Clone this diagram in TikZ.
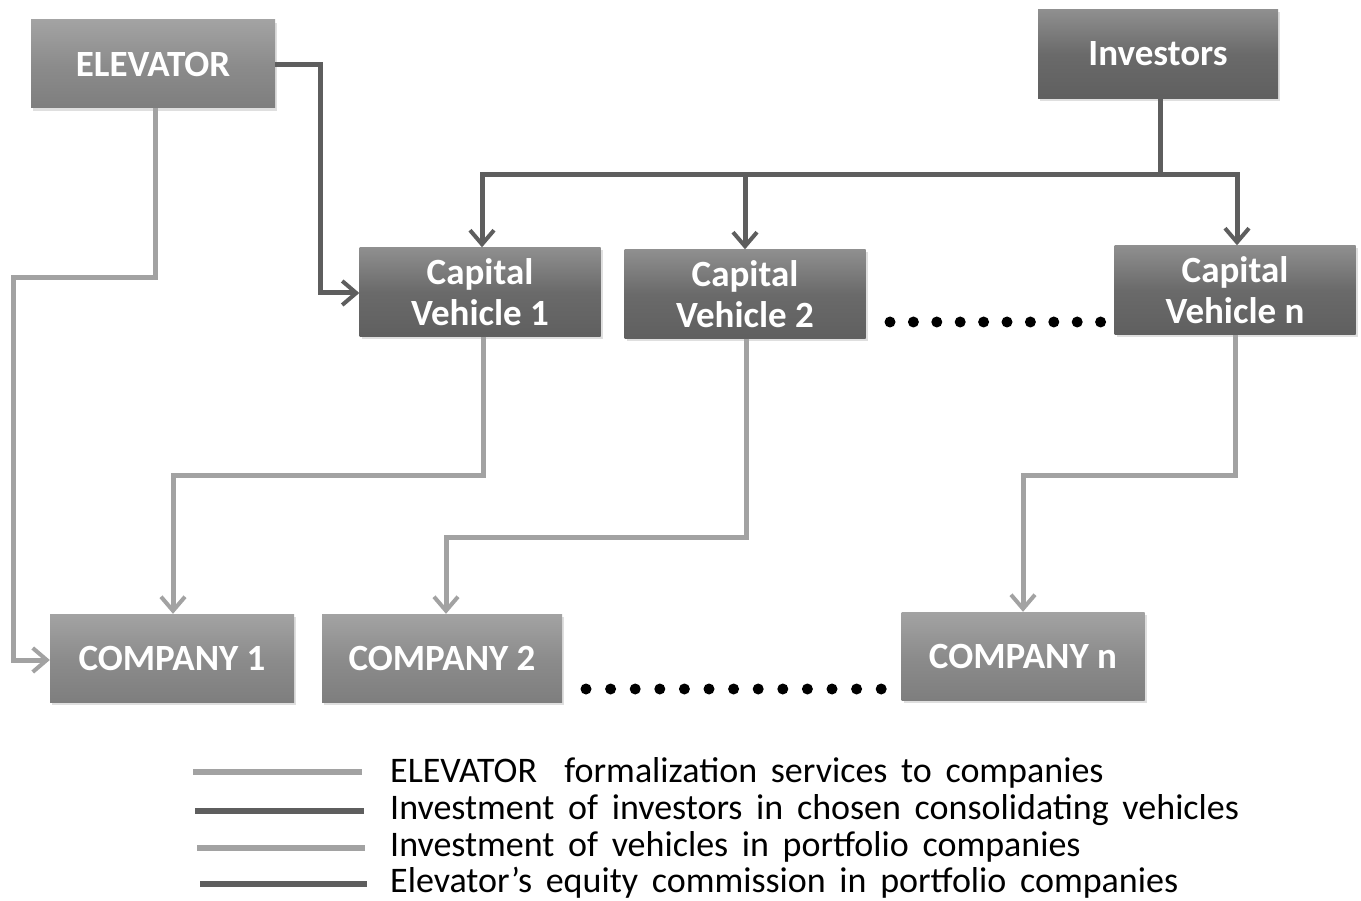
\documentclass[tikz,border=0pt]{standalone}
\usepackage{fontspec}
\setmainfont{Carlito}
\usetikzlibrary{arrows.meta,shadows}
\definecolor{boxlight}{HTML}{8C8C8C}
\definecolor{boxdark}{HTML}{6A6A6A}
\definecolor{linelight}{HTML}{A2A2A2}
\definecolor{linedark}{HTML}{5E5E5E}
\newcommand{\mylegfont}{\fontsize{36}{38}\selectfont\spaceskip=0.38em plus 0.1em minus 0.05em\relax}
\tikzset{
  lbox/.style={draw=none, top color=boxlight!80!white, bottom color=boxlight!90!black, middle color=boxlight,
    minimum width=244pt, minimum height=88pt, inner sep=0pt, text=white,
    font=\fontsize{37}{41}\selectfont\bfseries, align=center,
    drop shadow={shadow xshift=2pt, shadow yshift=-3pt, opacity=0.25}},
  dbox/.style={lbox, top color=boxdark!75!white, bottom color=boxdark!90!black, middle color=boxdark,
    minimum width=241pt, minimum height=89pt},
  lline/.style={draw=linelight, line width=5pt},
  dline/.style={draw=linedark, line width=5pt},
  tip/.style={-{Straight Barb[length=14pt,width=24pt,line width=4pt]}},
  dotfill/.style={fill=black},
  legtext/.style={anchor=west, font=\mylegfont, inner sep=0pt}
}
\begin{document}
\begin{tikzpicture}[x=1pt,y=-1pt]
\useasboundingbox (0,0) rectangle (1361,901);
\fill[white] (0,0) rectangle (1361,901);
% nodes
\node[lbox] (elev) at (153,64) {ELEVATOR};
\node[dbox, minimum width=240pt] (inv) at (1158,54) {Investors};
\node[dbox] (cv1) at (480,292) {Capital\\Vehicle 1};
\node[dbox] (cv2) at (745,294) {Capital\\Vehicle 2};
\node[dbox] (cvn) at (1235,290) {Capital\\Vehicle n};
\node[lbox] (c1) at (172,658) {COMPANY 1};
\node[lbox, minimum width=240pt] (c2) at (442,658) {COMPANY 2};
\node[lbox, minimum width=243pt] (cn) at (1023,656) {COMPANY n};
% coordinates
\coordinate (j1) at (320,65);
\coordinate (j2) at (320,293);
\coordinate (e1) at (155,278);
\coordinate (e2) at (13,278);
\coordinate (e3) at (13,660);
\coordinate (bus) at (1160,175);
\coordinate (busL) at (482,175);
\coordinate (busR) at (1237,175);
\coordinate (bus2) at (745,175);
% elevator -> companies
\draw[lline, tip] (elev.south -| e1) -- (e1) -- (e2) -- (e3) -- (c1.west |- e3);
% elevator -> cv1
\draw[dline, tip] (elev.east |- j1) -- (j1) -- (j2) -- (cv1.west |- j2);
% investors
\draw[dline] (inv.south -| bus) -- (bus);
\draw[dline, line cap=rect] (busL) -- (busR);
\draw[dline, tip] (busL) -- (busL |- cv1.north);
\draw[dline, tip] (bus2) -- (bus2 |- cv2.north);
\draw[dline, tip] (busR) -- (busR |- cvn.north);
% vehicles -> companies
\coordinate (v1a) at (483,475); \coordinate (v1b) at (173,475);
\draw[lline, tip] (cv1.south -| v1a) -- (v1a) -- (v1b) -- (v1b |- c1.north);
\coordinate (v2a) at (746,537); \coordinate (v2b) at (446,537);
\draw[lline, tip] (cv2.south -| v2a) -- (v2a) -- (v2b) -- (v2b |- c2.north);
\coordinate (vna) at (1235,475); \coordinate (vnb) at (1023,475);
\draw[lline, tip] (cvn.south -| vna) -- (vna) -- (vnb) -- (vnb |- cn.north);
% dots
\foreach \i in {0,...,9} \fill[dotfill] (890+\i*23.4,322) circle (5.5pt);
\foreach \i in {0,...,12} \fill[dotfill] (586+\i*24.6,689) circle (5.5pt);
% legend
\coordinate (l1a) at (193,772); \coordinate (l1b) at (362,772);
\coordinate (l2a) at (195,811); \coordinate (l2b) at (364,811);
\coordinate (l3a) at (197,848); \coordinate (l3b) at (365,848);
\coordinate (l4a) at (200,884); \coordinate (l4b) at (367,884);
\draw[lline, line width=6pt] (l1a) -- (l1b);
\draw[dline, line width=6pt] (l2a) -- (l2b);
\draw[lline, line width=6pt] (l3a) -- (l3b);
\draw[dline, line width=6pt] (l4a) -- (l4b);
\node[legtext] (t1) at (390,773) {ELEVATOR\ \ formalization services to companies};
\node[legtext] (t2) at (390,810) {Investment of investors in chosen consolidating vehicles};
\node[legtext] (t3) at (390,847) {Investment of vehicles in portfolio companies};
\node[legtext] (t4) at (390,883) {Elevator’s equity commission in portfolio companies};
\end{tikzpicture}
\end{document}
